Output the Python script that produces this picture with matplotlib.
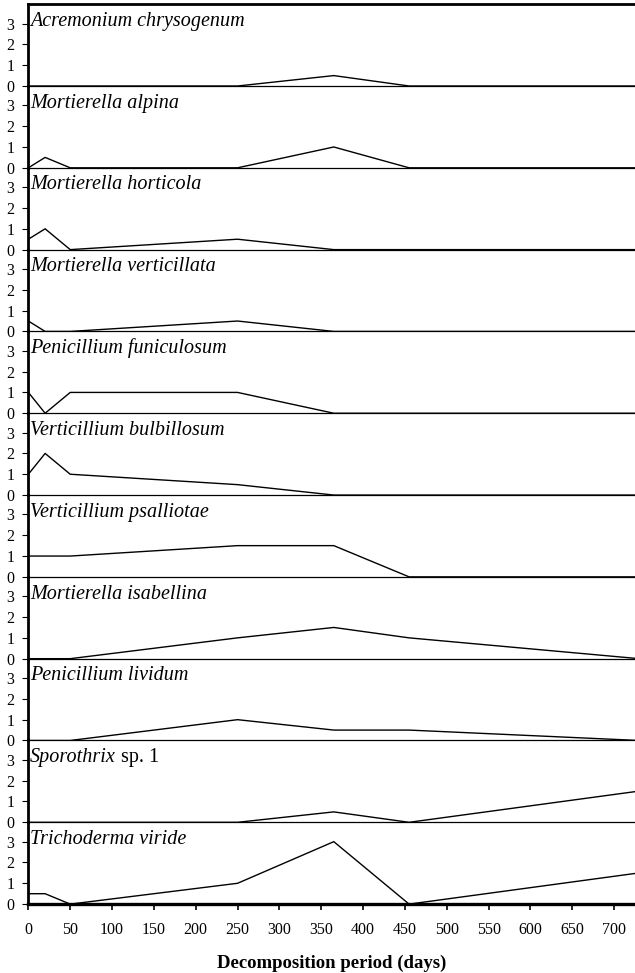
import numpy as np
import matplotlib
matplotlib.use("Agg")
import matplotlib.pyplot as plt

plt.rcParams['font.family'] = ['Liberation Serif', 'DejaVu Serif']

# Sampling days
days = [0, 20, 50, 250, 365, 455, 730]

# Abundance scores per species at each sampling day
acremonium_chrysogenum = [0, 0, 0, 0, 0.5, 0, 0]
mortierella_alpina = [0, 0.5, 0, 0, 1, 0, 0]
mortierella_horticola = [0.5, 1, 0, 0.5, 0, 0, 0]
mortierella_verticillata = [0.5, 0, 0, 0.5, 0, 0, 0]
penicillium_funiculosum = [1, 0, 1, 1, 0, 0, 0]
verticillium_bulbillosum = [1, 2, 1, 0.5, 0, 0, 0]
verticillium_psalliotae = [1, 1, 1, 1.5, 1.5, 0, 0]
mortierella_isabellina = [0, 0, 0, 1, 1.5, 1, 0]
penicillium_lividum = [0, 0, 0, 1, 0.5, 0.5, 0]
sporothrix_sp1 = [0, 0, 0, 0, 0.5, 0, 1.5]
trichoderma_viride = [0.5, 0.5, 0, 1, 3, 0, 1.5]

# (italic name, upright suffix, values)
species = [
    ('Acremonium chrysogenum', '', acremonium_chrysogenum),
    ('Mortierella alpina', '', mortierella_alpina),
    ('Mortierella horticola', '', mortierella_horticola),
    ('Mortierella verticillata', '', mortierella_verticillata),
    ('Penicillium funiculosum', '', penicillium_funiculosum),
    ('Verticillium bulbillosum', '', verticillium_bulbillosum),
    ('Verticillium psalliotae', '', verticillium_psalliotae),
    ('Mortierella isabellina', '', mortierella_isabellina),
    ('Penicillium lividum', '', penicillium_lividum),
    ('Sporothrix', ' sp. 1', sporothrix_sp1),
    ('Trichoderma viride', '', trichoderma_viride),
]

xticks = list(range(0, 701, 50))
yticks = [0, 1, 2, 3]

fig = plt.figure(figsize=(6.35, 9.73), dpi=100)
n = len(species)
left, right = 0.0447, 1.0
bottom, top = 0.0708, 0.9957
h = (top - bottom) / n

for i, (name, suffix, vals) in enumerate(species):
    ax = fig.add_axes([left, top - (i + 1) * h, right - left, h])
    ax.patch.set_visible(False)
    ax.plot(days, vals, color='black', lw=1.0)
    ax.set_xlim(0, 725)
    ax.set_ylim(0, 3.93)
    ax.set_yticks(yticks)
    ax.set_yticklabels([str(t) for t in yticks], fontsize=11.5)
    ax.tick_params(axis='y', direction='out', length=4, width=0.8, pad=6)
    ax.spines['right'].set_visible(False)
    ax.spines['top'].set_visible(i == 0)
    ax.spines['top'].set_linewidth(2.0)
    ax.spines['left'].set_linewidth(2.0)
    ax.spines['bottom'].set_linewidth(0.9)
    ax.set_xticks(xticks)
    if i < n - 1:
        ax.tick_params(axis='x', length=0, labelbottom=False)
    else:
        ax.spines['bottom'].set_linewidth(2.4)
        ax.tick_params(axis='x', direction='out', length=4, width=1.2,
                       labelsize=11.5, pad=9)
        ax.set_xlabel('Decomposition period (days)', fontsize=13.5,
                      fontweight='bold', labelpad=12)
    t = ax.text(0.003, 0.735, name, transform=ax.transAxes, fontsize=14.5,
                style='italic', va='baseline', ha='left')
    if suffix:
        ax.annotate(suffix, xy=(1, 0), xycoords=t, fontsize=14.5,
                    va='bottom', ha='left')

fig.savefig('out.png', dpi=100)
